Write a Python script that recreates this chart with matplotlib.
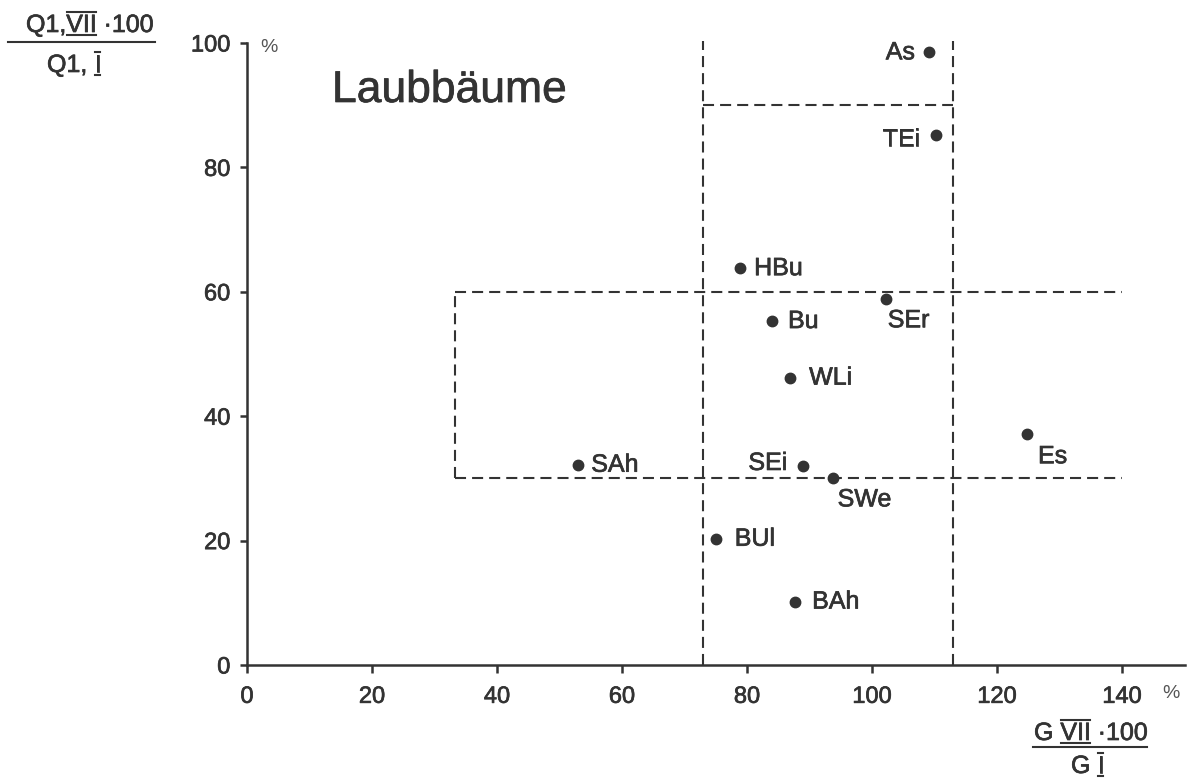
import matplotlib
matplotlib.use('Agg')
import matplotlib.pyplot as plt
import matplotlib.patheffects as pe
from matplotlib.lines import Line2D
from matplotlib.transforms import IdentityTransform

plt.rcParams['font.family'] = ['Liberation Sans', 'DejaVu Sans']

# species: growth ratio G (x) vs Q1 ratio (y), both in %
names = ['As', 'TEi', 'HBu', 'Bu', 'SEr', 'WLi', 'Es', 'SAh', 'SEi', 'SWe', 'BUl', 'BAh']
g_ratio = [109.1, 110.2, 78.9, 84.0, 102.2, 86.9, 124.8, 53.0, 89.0, 93.7, 75.0, 87.7]
q_ratio = [98.5, 85.2, 63.8, 55.3, 58.8, 46.2, 37.1, 32.2, 32.0, 30.0, 20.3, 10.2]

# label offsets in pixels (dx, dy) and alignment
label_pos = {
    'As': (-14, 0, 'right', 'center'),
    'TEi': (-16, -4, 'right', 'center'),
    'HBu': (14, 0, 'left', 'center'),
    'Bu': (16, 0, 'left', 'center'),
    'SEr': (2, -21, 'left', 'center'),
    'WLi': (19, 0, 'left', 'center'),
    'Es': (11, -22, 'left', 'center'),
    'SAh': (13, 0, 'left', 'center'),
    'SEi': (-16, 3, 'right', 'center'),
    'SWe': (5, -21, 'left', 'center'),
    'BUl': (19, 0, 'left', 'center'),
    'BAh': (17, 0, 'left', 'center'),
}

# dashed reference lines (x list, y list)
guides = [
    ([73, 73], [0, 100.4]),
    ([113, 113], [0, 100.4]),
    ([73, 113], [90, 90]),
    ([33.2, 140], [60, 60]),
    ([33.2, 140], [30, 30]),
    ([33.2, 33.2], [30, 60]),
]

xticks = [0, 20, 40, 60, 80, 100, 120, 140]
yticks = [0, 20, 40, 60, 80, 100]

ink = '#333333'
W, H = 1189, 782
bold = [pe.withStroke(linewidth=0.5, foreground=ink)]

fig = plt.figure(figsize=(W / 100, H / 100), dpi=100)
ax = fig.add_axes([247 / W, 117 / H, 937.5 / W, 622 / H])
ax.set_xlim(0, 150)
ax.set_ylim(0, 100)

for gx, gy in guides:
    ax.plot(gx, gy, color=ink, lw=1.5, dashes=(5.3, 2.9), clip_on=False)

ax.plot(g_ratio, q_ratio, 'o', color=ink, ms=7.5, clip_on=False)
for n, xv, yv in zip(names, g_ratio, q_ratio):
    dx, dy, ha, va = label_pos[n]
    ax.annotate(n, (xv, yv), xytext=(dx * 0.72, dy * 0.72), textcoords='offset points',
                ha=ha, va=va, fontsize=18, color=ink, path_effects=bold)

for s in ['top', 'right']:
    ax.spines[s].set_visible(False)
for s in ['left', 'bottom']:
    ax.spines[s].set_linewidth(1.8)
    ax.spines[s].set_color(ink)
ax.spines['left'].set_bounds(0, 100)

ax.set_xticks(xticks)
ax.set_yticks(yticks)
ax.tick_params(axis='x', length=6, width=1.8, color=ink, labelsize=17, labelcolor=ink, pad=9)
ax.tick_params(axis='y', length=5, width=1.8, color=ink, labelsize=17, labelcolor=ink, pad=7)
for lab in ax.get_xticklabels() + ax.get_yticklabels():
    lab.set_path_effects(bold)

fig.text(332 / W, 1 - 102 / H, 'Laubbäume', fontsize=32, color=ink, ha='left',
         va='baseline', path_effects=bold)
fig.text(260 / W, 1 - 52 / H, '%', fontsize=14, color='#555555', ha='left', va='baseline')
fig.text(1162 / W, 1 - 698 / H, '%', fontsize=14, color='#555555', ha='left', va='baseline')

renderer = fig.canvas.get_renderer()


def bar_line(x0, x1, y):
    fig.add_artist(Line2D([x0, x1], [H - y, H - y], transform=IdentityTransform(),
                          color=ink, lw=1.5))


def bar_text(x, base, parts, size=18):
    cur = x
    for s, over, under in parts:
        t = fig.text(cur / W, 1 - base / H, s, fontsize=size, color=ink,
                     ha='left', va='baseline', path_effects=bold)
        bb = t.get_window_extent(renderer)
        if over:
            bar_line(bb.x0 + 1, bb.x1 - 1, base - 20)
        if under:
            bar_line(bb.x0 + 1, bb.x1 - 1, base + 3)
        cur = bb.x1
    return cur


# y label fraction
bar_text(26, 32, [('Q1,', False, False), ('VII', True, True), (' ·100', False, False)])
bar_line(8, 155, 42)
bar_text(47, 72, [('Q1, ', False, False), ('I', True, True)])

# x label fraction
bar_text(1034, 740, [('G ', False, False), ('VII', True, True), (' ·100', False, False)])
bar_line(1033, 1147, 747)
bar_text(1071, 773, [('G ', False, False), ('I', True, True)])

fig.savefig('out.png', dpi=100)
